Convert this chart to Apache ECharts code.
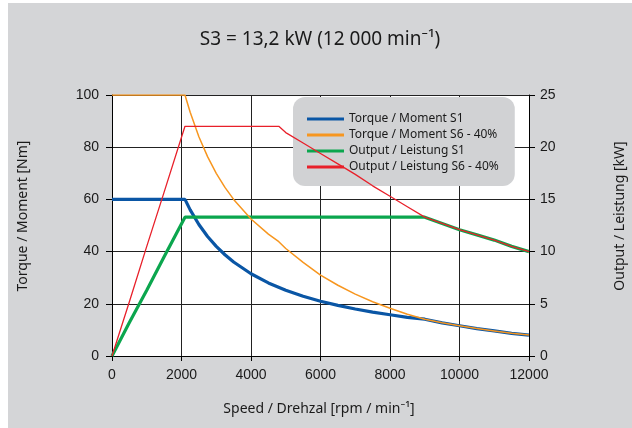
<!DOCTYPE html>
<html>
<head>
<meta charset="utf-8">
<script src="https://cdn.jsdelivr.net/npm/echarts@6/dist/echarts.min.js"></script>
<style>
html,body{margin:0;padding:0;background:#fff;width:632px;height:428px;overflow:hidden;}
#c{position:absolute;left:8px;top:3px;width:624px;height:425px;}
</style>
</head>
<body>
<div id="c"></div>
<script>
// ---- data ----
const titleText = 'S3 = 13,2 kW (12 000 min⁻¹)';
const xName = 'Speed / Drehzal [rpm / min⁻¹]';
const yLeftName = 'Torque / Moment [Nm]';
const yRightName = 'Output / Leistung [kW]';
const seriesNames = ['Torque / Moment S1', 'Torque / Moment S6 - 40%', 'Output / Leistung S1', 'Output / Leistung S6 - 40%'];

const speedS1 = [0, 500, 1000, 1500, 2100, 2250, 2500, 2750, 3000, 3250, 3500, 4000, 4500, 5000, 5500, 6000, 6500, 7000, 7500, 8000, 8500, 9000, 9500, 10000, 10500, 11000, 11500, 12000];
const torqueS1 = [60, 60, 60, 60, 60, 56.0, 50.4, 45.8, 42.0, 38.8, 36.0, 31.5, 28.0, 25.2, 22.9, 21.0, 19.4, 18.0, 16.8, 15.8, 14.8, 14.1, 12.7, 11.6, 10.5, 9.6, 8.7, 8.0];
const outputS1 = [0, 3.2, 6.3, 9.5, 13.3, 13.3, 13.3, 13.3, 13.3, 13.3, 13.3, 13.3, 13.3, 13.3, 13.3, 13.3, 13.3, 13.3, 13.3, 13.3, 13.3, 13.3, 12.7, 12.1, 11.6, 11.1, 10.5, 10.0];

const speedS6 = [0, 500, 1000, 1500, 2100, 2250, 2500, 2750, 3000, 3250, 3500, 4000, 4500, 4800, 5000, 5500, 6000, 6500, 7000, 7500, 8000, 8500, 9000, 9500, 10000, 10500, 11000, 11500, 12000];
const torqueS6 = [100, 100, 100, 100, 100, 93.4, 84.0, 76.4, 70.0, 64.6, 60.0, 52.5, 46.7, 43.8, 41.2, 35.9, 31.0, 27.1, 23.7, 20.8, 18.3, 16.0, 14.1, 12.7, 11.6, 10.5, 9.6, 8.7, 8.0];
const outputS6 = [0, 5.2, 10.5, 15.7, 22.0, 22.0, 22.0, 22.0, 22.0, 22.0, 22.0, 22.0, 22.0, 22.0, 21.4, 20.4, 19.4, 18.4, 17.4, 16.3, 15.3, 14.3, 13.3, 12.7, 12.1, 11.6, 11.1, 10.5, 10.0];

const xTicks = {min: 0, max: 12000, interval: 2000};
const yLeftTicks = {min: 0, max: 100, interval: 20};
const yRightTicks = {min: 0, max: 25, interval: 5};

// ---- build ----
const pair = (xs, ys) => xs.map((x, i) => [x, ys[i]]);
const colors = ['#0a56a5', '#f7961f', '#0ba64e', '#e8202a'];
const humanist = '"Noto Sans", "Open Sans", sans-serif';
const tickFont = {fontFamily: '"Liberation Sans", Arial, sans-serif', fontSize: 14, color: '#1a1a1a'};
const plain = v => String(v);

const chart = echarts.init(document.getElementById('c'), null, {renderer: 'canvas'});
chart.setOption({
  backgroundColor: '#d4d5d7',
  animation: false,
  textStyle: {fontFamily: humanist},
  title: {
    text: titleText, left: 'center', top: 22,
    textStyle: {fontFamily: humanist, fontSize: 19, fontWeight: 'normal', color: '#1a1a1a'}
  },
  graphic: [
    {type: 'text', x: 15, y: 213, rotation: Math.PI / 2,
      style: {text: yLeftName, font: '14px "Noto Sans"', fill: '#1a1a1a', textAlign: 'center', textVerticalAlign: 'middle'}},
    {type: 'text', x: 612, y: 213, rotation: Math.PI / 2,
      style: {text: yRightName, font: '14px "Noto Sans"', fill: '#1a1a1a', textAlign: 'center', textVerticalAlign: 'middle'}},
    {type: 'text', x: 311, y: 406,
      style: {text: xName, font: '14px "Noto Sans"', fill: '#1a1a1a', textAlign: 'center', textVerticalAlign: 'middle'}}
  ],
  legend: {
    orient: 'vertical', left: 285, top: 94,
    padding: [14, 16, 11, 14],
    backgroundColor: '#d1d2d4', borderRadius: 12,
    itemWidth: 37, itemHeight: 3, itemGap: 0,
    icon: 'rect',
    textStyle: {fontFamily: humanist, fontSize: 12, color: '#1a1a1a', lineHeight: 16},
    data: seriesNames
  },
  grid: {left: 104, top: 92, width: 417, height: 261, show: true, backgroundColor: '#ffffff', borderWidth: 0},
  xAxis: {
    type: 'value', min: xTicks.min, max: xTicks.max, interval: xTicks.interval,
    axisLine: {show: true, onZero: false, lineStyle: {color: '#000', width: 1}},
    axisTick: {show: true, inside: false, length: 5, lineStyle: {color: '#000'}},
    axisLabel: Object.assign({margin: 12, formatter: plain}, tickFont),
    splitLine: {show: true, lineStyle: {color: '#222', width: 1}}
  },
  yAxis: [
    {
      type: 'value', position: 'left', min: yLeftTicks.min, max: yLeftTicks.max, interval: yLeftTicks.interval,
      axisLine: {show: true, onZero: false, lineStyle: {color: '#000', width: 1}},
      axisTick: {show: true, inside: false, length: 6, lineStyle: {color: '#000'}},
      axisLabel: Object.assign({margin: 13, formatter: plain}, tickFont),
      splitLine: {show: true, lineStyle: {color: '#222', width: 1}}
    },
    {
      type: 'value', position: 'right', min: yRightTicks.min, max: yRightTicks.max, interval: yRightTicks.interval,
      axisLine: {show: true, onZero: false, lineStyle: {color: '#000', width: 1}},
      axisTick: {show: true, inside: false, length: 6, lineStyle: {color: '#000'}},
      axisLabel: Object.assign({margin: 11, formatter: plain}, tickFont),
      splitLine: {show: false}
    }
  ],
  series: [
    {name: seriesNames[0], type: 'line', yAxisIndex: 0, data: pair(speedS1, torqueS1),
      color: colors[0], lineStyle: {width: 3.2, color: colors[0]}, symbol: 'none', z: 4},
    {name: seriesNames[1], type: 'line', yAxisIndex: 0, data: pair(speedS6, torqueS6),
      color: colors[1], lineStyle: {width: 1.5, color: colors[1]}, symbol: 'none', z: 5},
    {name: seriesNames[2], type: 'line', yAxisIndex: 1, data: pair(speedS1, outputS1),
      color: colors[2], lineStyle: {width: 3.2, color: colors[2]}, symbol: 'none', z: 4},
    {name: seriesNames[3], type: 'line', yAxisIndex: 1, data: pair(speedS6, outputS6),
      color: colors[3], lineStyle: {width: 1.3, color: colors[3]}, symbol: 'none', z: 5}
  ]
});
</script>
</body>
</html>
